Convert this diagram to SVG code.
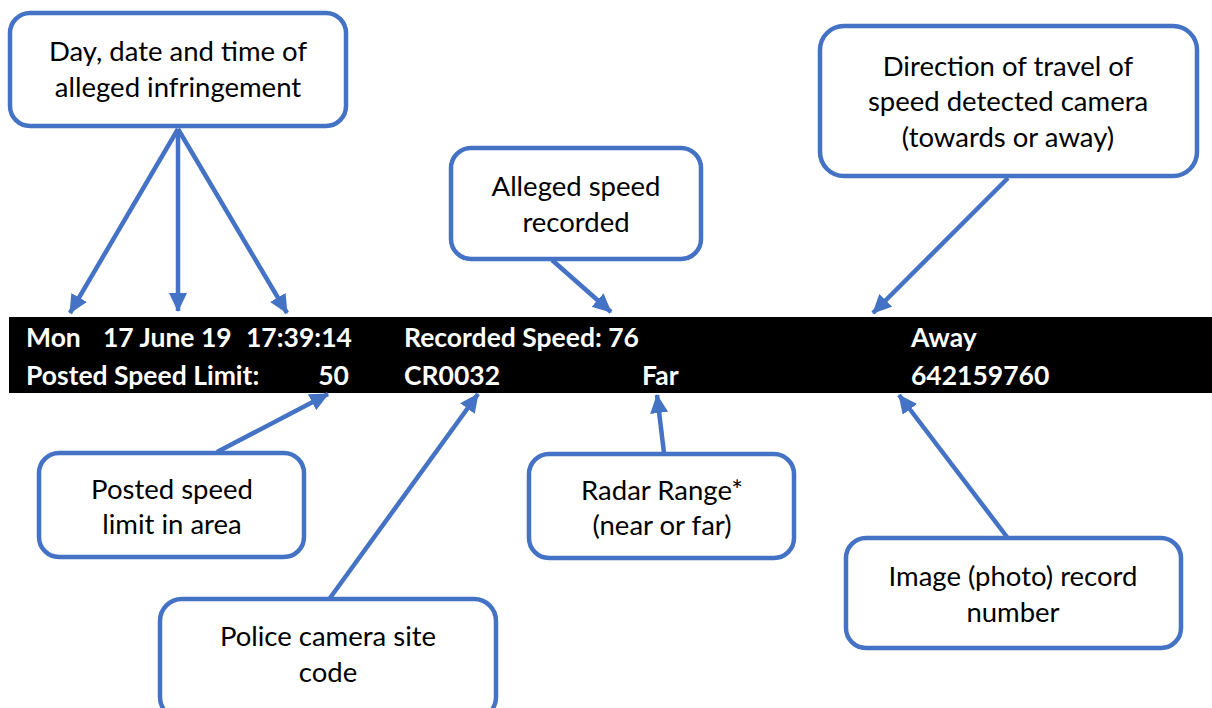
<svg xmlns="http://www.w3.org/2000/svg" width="1212" height="708" viewBox="0 0 1212 708">
<style>
.box{fill:#fff;stroke:#4472C4;stroke-width:4.5}
.lbl{font-family:Lato,"Open Sans",sans-serif;font-size:27.5px;fill:#000;text-anchor:middle}
.bar{font-family:Lato,"Open Sans",sans-serif;font-size:26.5px;font-weight:bold;fill:#fff}
.con{stroke:#4472C4;stroke-width:4.5;fill:none;marker-end:url(#ah)}
</style>
<defs>
<marker id="ah" markerUnits="userSpaceOnUse" markerWidth="22" markerHeight="20" refX="18" refY="9" orient="auto">
<path d="M0,0 L19,9 L0,18 Z" fill="#4472C4"/>
</marker>
</defs>
<rect width="1212" height="708" fill="#fff"/>
<g id="bar">
<rect x="9" y="317" width="1203" height="76" fill="#000"/>
<text class="bar" x="26" y="347">Mon</text>
<text class="bar" x="103" y="347">17 June 19</text>
<text class="bar" x="246" y="347">17:39:14</text>
<text class="bar" x="404" y="347">Recorded Speed: 76</text>
<text class="bar" x="911" y="347">Away</text>
<text class="bar" x="26" y="385">Posted Speed Limit:</text>
<text class="bar" x="349" y="385" text-anchor="end">50</text>
<text class="bar" x="404" y="385">CR0032</text>
<text class="bar" x="642" y="385">Far</text>
<text class="bar" x="911" y="385">642159760</text>
</g>
<g id="connectors">
<line class="con" x1="178" y1="129" x2="70" y2="313"/>
<line class="con" x1="178" y1="129" x2="178" y2="311"/>
<line class="con" x1="178" y1="129" x2="287" y2="313"/>
<line class="con" x1="552" y1="260" x2="611" y2="312"/>
<line class="con" x1="1008" y1="178" x2="873" y2="313"/>
<line class="con" x1="217" y1="452" x2="328" y2="394"/>
<line class="con" x1="330" y1="598" x2="478" y2="394"/>
<line class="con" x1="664" y1="453" x2="657" y2="395"/>
<line class="con" x1="1007" y1="537" x2="899" y2="395"/>
</g>
<g id="n-datetime">
<rect class="box" x="10" y="13" width="336" height="113" rx="20"/>
<text class="lbl" x="178" y="61">Day, date and time of</text>
<text class="lbl" x="178" y="97">alleged infringement</text>
</g>
<g id="n-speed">
<rect class="box" x="451" y="148" width="250" height="111" rx="20"/>
<text class="lbl" x="576" y="196">Alleged speed</text>
<text class="lbl" x="576" y="232">recorded</text>
</g>
<g id="n-direction">
<rect class="box" x="820" y="26" width="377" height="150" rx="24"/>
<text class="lbl" x="1008" y="76">Direction of travel of</text>
<text class="lbl" x="1008" y="111">speed detected camera</text>
<text class="lbl" x="1008" y="147">(towards or away)</text>
</g>
<g id="n-limit">
<rect class="box" x="39" y="453" width="265" height="104" rx="20"/>
<text class="lbl" x="172" y="499">Posted speed</text>
<text class="lbl" x="172" y="534">limit in area</text>
</g>
<g id="n-site">
<rect class="box" x="160" y="599" width="336" height="120" rx="22"/>
<text class="lbl" x="328" y="646">Police camera site</text>
<text class="lbl" x="328" y="682">code</text>
</g>
<g id="n-radar">
<rect class="box" x="529" y="454" width="265" height="104" rx="20"/>
<text class="lbl" x="662" y="500">Radar Range*</text>
<text class="lbl" x="662" y="535">(near or far)</text>
</g>
<g id="n-image">
<rect class="box" x="846" y="538" width="335" height="110" rx="20"/>
<text class="lbl" x="1013" y="586">Image (photo) record</text>
<text class="lbl" x="1013" y="622">number</text>
</g>
</svg>
